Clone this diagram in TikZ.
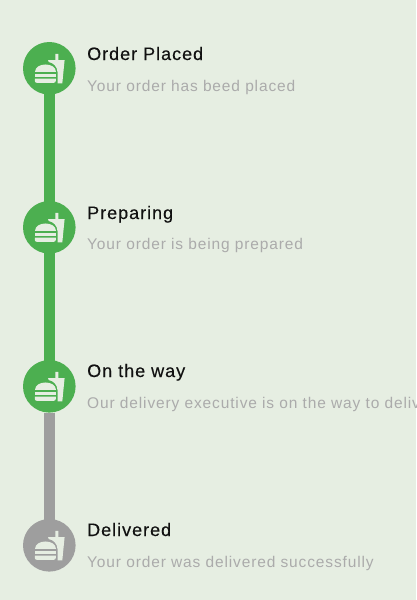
\documentclass[tikz,border=0pt]{standalone}
\usepackage{fontspec}
\setmainfont{Liberation Sans}
\newfontfamily\titlefont[LetterSpace=5.5,FakeBold=0.25]{Liberation Sans}
\newfontfamily\subfont[LetterSpace=5.6]{Liberation Sans}
\definecolor{bgc}{HTML}{E6EEE2}
\definecolor{greenc}{HTML}{4CAF50}
\definecolor{grayc}{HTML}{9E9E9E}
\definecolor{subc}{HTML}{ABABAB}
\definecolor{titlec}{HTML}{111111}
\tikzset{
  dotnode/.style={circle,minimum size=53pt,inner sep=0pt,draw=none},
  linkline/.style={line width=11pt},
  titlenode/.style={anchor=base west,inner sep=0pt,text=titlec,font=\titlefont\fontsize{18}{20}\selectfont},
  subnode/.style={anchor=base west,inner sep=0pt,text=subc,font=\subfont\fontsize{15.5}{18}\selectfont},
  pics/meal/.style={code={
    \fill[bgc] (-14,3.6) .. controls (-14,-6.5) and (6.5,-6.5) .. (6.5,3.6) -- cycle;
    \fill[bgc] (-14.5,5.2) rectangle (6.5,8.6);
    \fill[bgc] (-14.5,10.2) -- (6.5,10.2) -- (6.5,12.5) .. controls (6.5,13.8) and (5.5,14.5) .. (4.5,14.5) -- (-12.5,14.5) .. controls (-13.5,14.5) and (-14.5,13.8) .. (-14.5,12.5) -- cycle;
    \fill[bgc] (-1.3,-8.3) -- (6,-8.3) -- (6,-14.5) -- (9,-14.5) -- (9,-8.3) -- (15.3,-8.3) -- (13,15) -- (8.2,15) -- (8.2,3.5) .. controls (7.8,-2) and (4,-5.5) .. (-0.5,-6.2) -- cycle;
  }}
}
\begin{document}
\begin{tikzpicture}[x=1pt,y=-1pt]
\useasboundingbox (0,0) rectangle (416,600);
\clip (0,0) rectangle (416,600);
\fill[bgc] (0,0) rectangle (416,600);
\node[dotnode] (s1) at (49.3,68.3) {};
\node[dotnode] (s2) at (49.3,227.3) {};
\node[dotnode] (s3) at (49.3,386.3) {};
\node[dotnode] (s4) at (49.3,545.3) {};
\draw[linkline,greenc] (s1.center) -- (s2.center);
\draw[linkline,greenc] (s2.center) -- (s3.center);
\draw[linkline,grayc] (s3.south) -- (s4.center);
\fill[greenc] (s1) circle (26.3);
\fill[greenc] (s2) circle (26.3);
\fill[greenc] (s3) circle (26.3);
\fill[grayc] (s4) circle (26.3);
\pic at (s1) {meal};
\pic at (s2) {meal};
\pic at (s3) {meal};
\pic at (s4) {meal};
\node[titlenode] (t1) at (87,60) {Order Placed};
\node[subnode] (d1) at (87,91) {Your order has beed placed};
\node[titlenode] (t2) at (87,219) {Preparing};
\node[subnode] (d2) at (87,249) {Your order is being prepared};
\node[titlenode] (t3) at (87,377) {On the way};
\node[subnode] (d3) at (87,408) {Our delivery executive is on the way to deliver};
\node[titlenode] (t4) at (87,536) {Delivered};
\node[subnode] (d4) at (87,567) {Your order was delivered successfully};
\end{tikzpicture}
\end{document}
